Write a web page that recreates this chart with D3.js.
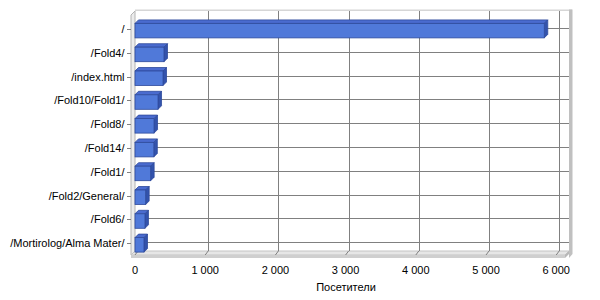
<!DOCTYPE html>
<html>
<head>
<meta charset="utf-8">
<script src="https://cdn.jsdelivr.net/npm/d3@7"></script>
<style>
  body { margin: 0; background: #fff; }
  text { font-family: "Liberation Sans", Arial, sans-serif; font-size: 11px; fill: #000; }
</style>
</head>
<body>
<div id="chart"></div>
<script>
// chart data
var pages = ["/", "/Fold4/", "/index.html", "/Fold10/Fold1/", "/Fold8/", "/Fold14/",
             "/Fold1/", "/Fold2/General/", "/Fold6/", "/Mortirolog/Alma Mater/"];
var visitors = [5830, 413, 399, 328, 271, 268, 223, 152, 142, 128];
var xTicks = [0, 1000, 2000, 3000, 4000, 5000, 6000];
var axisTitle = "Посетители";

var width = 600, height = 300;
var dep = 3.5;          // 3d depth offset (right / up)
var wallTop = 11, wallBottom = 251, wallRight = 569;

var svg = d3.select("#chart").append("svg")
    .attr("width", width).attr("height", height);

var x = d3.scaleLinear().domain([0, 6000]).range([135, 556.2]);
var y = d3.scaleBand().domain(pages).range([17, 255]).padding(0);

var fmt = v => d3.format(",")(v).replace(/,/g, " ");

// ---- walls
var walls = svg.append("g").attr("class", "walls");

// back wall top edge + right edge thickness
walls.append("rect").attr("x", 135).attr("y", wallTop - 1.5)
  .attr("width", wallRight + 3 - 135).attr("height", 2.5).attr("fill", "#d6d6d6");
walls.append("path")
  .attr("d", `M${wallRight},${wallTop - 1.5} L${wallRight + 3.5},${wallTop - 1.5} L${wallRight + 3.5},${wallBottom + 3} L${wallRight},${wallBottom + 7} Z`)
  .attr("fill", "#c0c0c0");

// back wall
walls.append("rect").attr("x", 135).attr("y", wallTop)
  .attr("width", wallRight - 135).attr("height", wallBottom - wallTop)
  .attr("fill", "#fff");

// left wall
walls.append("path")
  .attr("d", `M131,${wallTop + 4} L135,${wallTop} L135,${wallBottom} L131,${wallBottom + 4} Z`)
  .attr("fill", "#ececec").attr("stroke", "#b4b4b4").attr("stroke-width", 1);

// floor
walls.append("path")
  .attr("d", `M131,${wallBottom + 4} L${wallRight - 4},${wallBottom + 4} L${wallRight},${wallBottom} L135,${wallBottom} Z`)
  .attr("fill", "#e6e6e6").attr("stroke", "#c4c4c4");
walls.append("path")
  .attr("d", `M131,${wallBottom + 4} L${wallRight - 4},${wallBottom + 4} L${wallRight - 4},${wallBottom + 7} L131,${wallBottom + 7} Z`)
  .attr("fill", "#cfcfcf");
walls.append("path")
  .attr("d", `M${wallRight - 4},${wallBottom + 7} L${wallRight - 4},${wallBottom + 4} L${wallRight},${wallBottom} L${wallRight},${wallBottom + 3} Z`)
  .attr("fill", "#b8b8b8");

// ---- grid lines
var grid = svg.append("g").attr("class", "grid").attr("stroke", "#808080").attr("stroke-width", 1);

grid.selectAll(".vgrid").data(xTicks.slice(1))
  .join("line").attr("class", "vgrid")
  .attr("x1", d => Math.round(x(d) + 3) + 0.5).attr("x2", d => Math.round(x(d) + 3) + 0.5)
  .attr("y1", wallTop).attr("y2", wallBottom);

grid.selectAll(".fgrid").data(xTicks)
  .join("line").attr("class", "fgrid")
  .attr("x1", d => x(d) + 3).attr("y1", wallBottom)
  .attr("x2", d => x(d)).attr("y2", wallBottom + 4);

grid.selectAll(".hgrid").data(pages)
  .join("line").attr("class", "hgrid")
  .attr("x1", 135).attr("x2", wallRight)
  .attr("y1", d => Math.round(y(d) + y.bandwidth() / 2 - 1) + 0.5)
  .attr("y2", d => Math.round(y(d) + y.bandwidth() / 2 - 1) + 0.5);

// ---- bars (front, top and end faces)
var bars = svg.append("g").attr("class", "bars")
  .selectAll("g").data(pages.map((p, i) => ({page: p, value: visitors[i]})))
  .join("g");

var frontTop = d => y(d.page) + y.bandwidth() / 2 - 5.5;
var barH = 14.5;

bars.append("path") // top face
  .attr("d", d => {
    var t = frontTop(d), x1 = x(d.value);
    return `M135,${t} L${135 + dep},${t - dep} L${x1 + dep},${t - dep} L${x1},${t} Z`;
  })
  .attr("fill", "#4a6bcf").attr("stroke", "#2e4a9c").attr("stroke-width", 0.8);

bars.append("path") // end face
  .attr("d", d => {
    var t = frontTop(d), x1 = x(d.value);
    return `M${x1},${t} L${x1 + dep},${t - dep} L${x1 + dep},${t + barH - dep} L${x1},${t + barH} Z`;
  })
  .attr("fill", "#3353ac").attr("stroke", "#2e4a9c").attr("stroke-width", 0.8);

bars.append("rect") // front face
  .attr("x", 135).attr("y", d => frontTop(d))
  .attr("width", d => x(d.value) - 135).attr("height", barH)
  .attr("fill", "#5079d9").attr("stroke", "#2e4a9c").attr("stroke-width", 0.8);

// ---- category axis
var yAxis = svg.append("g").attr("class", "y-axis");
yAxis.selectAll("line").data(pages).join("line")
  .attr("x1", 127).attr("x2", 131)
  .attr("y1", d => Math.round(y(d) + y.bandwidth() / 2) + 0.5)
  .attr("y2", d => Math.round(y(d) + y.bandwidth() / 2) + 0.5)
  .attr("stroke", "#808080");
yAxis.selectAll("text").data(pages).join("text")
  .attr("x", 124.5).attr("y", d => y(d) + y.bandwidth() / 2 + 4)
  .attr("text-anchor", "end")
  .text(d => d);

// ---- value axis labels
var xAxis = svg.append("g").attr("class", "x-axis");
xAxis.selectAll("text").data(xTicks).join("text")
  .attr("x", d => x(d)).attr("y", 274)
  .attr("text-anchor", "middle")
  .text(fmt);

svg.append("text")
  .attr("x", 346).attr("y", 291)
  .attr("text-anchor", "middle")
  .text(axisTitle);
</script>
</body>
</html>
